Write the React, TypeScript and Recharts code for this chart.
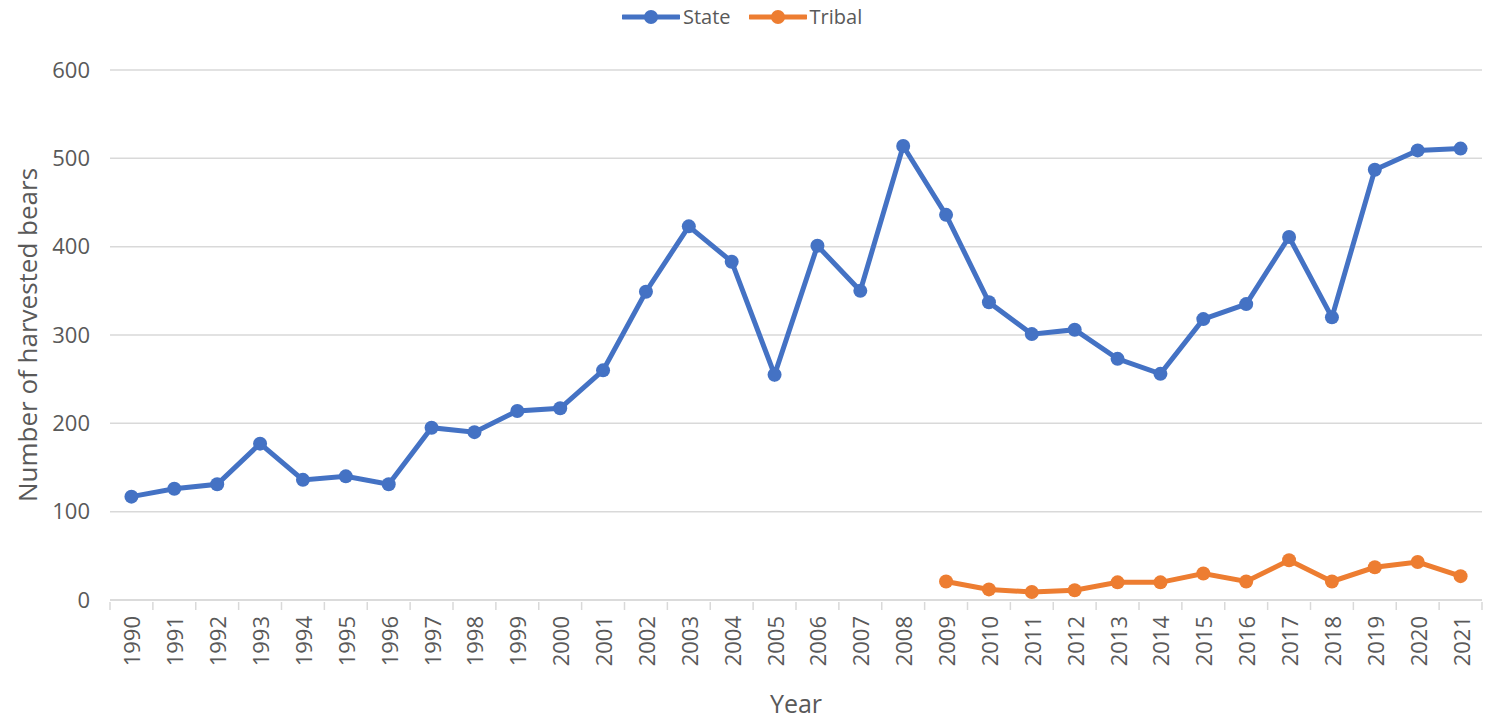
import React from "react";
import { LineChart, Line, XAxis, YAxis, CartesianGrid } from "recharts";

const BLUE = "#4472c4";
const ORANGE = "#ed7d31";
const GRID = "#d9d9d9";
const TEXT = "#595959";
const FONT = "'Open Sans', 'Liberation Sans', sans-serif";

const years = [
  1990, 1991, 1992, 1993, 1994, 1995, 1996, 1997, 1998, 1999, 2000, 2001, 2002,
  2003, 2004, 2005, 2006, 2007, 2008, 2009, 2010, 2011, 2012, 2013, 2014, 2015,
  2016, 2017, 2018, 2019, 2020, 2021,
];
const state = [
  117, 126, 131, 177, 136, 140, 131, 195, 190, 214, 217, 260, 349, 423, 383, 255,
  401, 350, 514, 436, 337, 301, 306, 273, 256, 318, 335, 411, 320, 487, 509, 511,
];
// tribal harvest only reported from 2009
const tribal = [
  null, null, null, null, null, null, null, null, null, null, null, null, null,
  null, null, null, null, null, null, 21, 12, 9, 11, 20, 20, 30, 21, 45, 21, 37,
  43, 27,
];
const yTicks = [0, 100, 200, 300, 400, 500, 600];

const data = years.map((y, i) => ({ year: String(y), state: state[i], tribal: tribal[i] }));

const W = 1489;
const H = 722;
const HALF = (1482 - 110) / years.length / 2;

function YearTick(props: any) {
  const { x, y, payload, index } = props;
  const half = payload?.offset || HALF;
  return (
    <g>
      <line x1={x - half} x2={x - half} y1={y} y2={y + 8} stroke={GRID} strokeWidth={1.5} />
      {index === years.length - 1 && (
        <line x1={x + half} x2={x + half} y1={y} y2={y + 8} stroke={GRID} strokeWidth={1.5} />
      )}
      <text
        transform={`translate(${x},${y + 14}) rotate(-90)`}
        textAnchor="end"
        dominantBaseline="central"
        fill={TEXT}
        fontSize={22}
        fontFamily={FONT}
      >
        {payload.value}
      </text>
    </g>
  );
}

function YLabel(props: any) {
  const { viewBox } = props;
  const cx = 27;
  const cy = viewBox.y + viewBox.height / 2;
  return (
    <text
      transform={`translate(${cx},${cy}) rotate(-90)`}
      textAnchor="middle"
      dominantBaseline="central"
      fill={TEXT}
      fontSize={26}
      fontFamily={FONT}
    >
      Number of harvested bears
    </text>
  );
}

function LegendItem({ color, label }: { color: string; label: string }) {
  return (
    <div style={{ display: "flex", alignItems: "center", marginRight: 18 }}>
      <svg width={58} height={16}>
        <line x1={1} x2={57} y1={8} y2={8} stroke={color} strokeWidth={5} strokeLinecap="round" />
        <circle cx={29} cy={8} r={7} fill={color} />
      </svg>
      <span style={{ marginLeft: 3, color: TEXT, fontSize: 20, fontFamily: FONT }}>{label}</span>
    </div>
  );
}

export default function App() {
  return (
    <div style={{ position: "absolute", left: 0, top: 0, width: W, height: H, background: "#fff" }}>
      <div
        style={{
          position: "absolute",
          top: 3,
          left: 622,
          display: "flex",
          lineHeight: "28px",
        }}
      >
        <LegendItem color={BLUE} label="State" />
        <LegendItem color={ORANGE} label="Tribal" />
      </div>
      <LineChart width={W} height={H} data={data} margin={{ top: 70, right: 7, left: 0, bottom: 0 }}>
        <CartesianGrid vertical={false} stroke={GRID} strokeWidth={1.5} />
        <XAxis
          dataKey="year"
          scale="band"
          interval={0}
          height={122}
          tickLine={false}
          tickSize={0}
          axisLine={{ stroke: GRID, strokeWidth: 1.5 }}
          tick={<YearTick />}
          label={{
            value: "Year",
            position: "insideBottom",
            offset: 9,
            fill: TEXT,
            fontSize: 25,
            fontFamily: FONT,
          }}
        />
        <YAxis
          width={110}
          domain={[0, 600]}
          ticks={yTicks}
          axisLine={false}
          tickLine={false}
          tickSize={0}
          tickMargin={20}
          tick={{ fill: TEXT, fontSize: 22, fontFamily: FONT }}
          label={<YLabel />}
        />
        <Line
          dataKey="state"
          stroke={BLUE}
          strokeWidth={5}
          dot={{ r: 7, fill: BLUE, stroke: BLUE, strokeWidth: 0 }}
          activeDot={false}
          isAnimationActive={false}
        />
        <Line
          dataKey="tribal"
          stroke={ORANGE}
          strokeWidth={5}
          dot={{ r: 7, fill: ORANGE, stroke: ORANGE, strokeWidth: 0 }}
          activeDot={false}
          connectNulls={false}
          isAnimationActive={false}
        />
      </LineChart>
    </div>
  );
}
